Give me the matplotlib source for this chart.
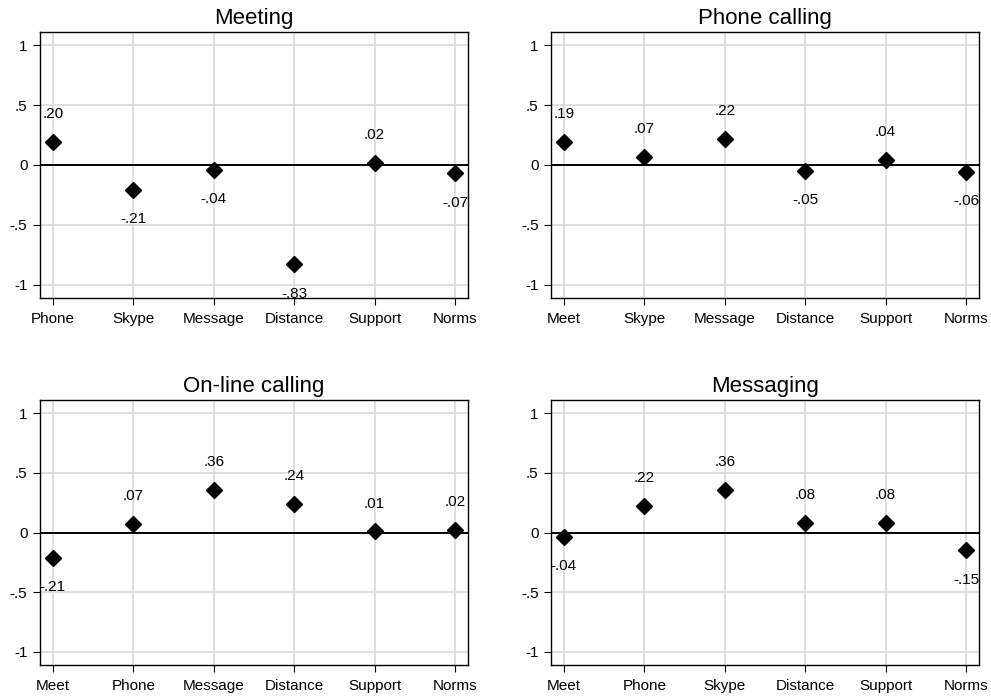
import matplotlib

matplotlib.use("Agg")
import matplotlib.pyplot as plt

plt.rcParams["font.family"] = ["Liberation Sans", "DejaVu Sans"]

titles = ["Meeting", "Phone calling", "On-line calling", "Messaging"]

meeting_cats = ["Phone", "Skype", "Message", "Distance", "Support", "Norms"]
meeting_vals = [0.195, -0.21, -0.04, -0.83, 0.02, -0.07]

phone_cats = ["Meet", "Skype", "Message", "Distance", "Support", "Norms"]
phone_vals = [0.19, 0.07, 0.22, -0.05, 0.04, -0.06]

online_cats = ["Meet", "Phone", "Message", "Distance", "Support", "Norms"]
online_vals = [-0.21, 0.07, 0.36, 0.24, 0.01, 0.02]

messaging_cats = ["Meet", "Phone", "Skype", "Distance", "Support", "Norms"]
messaging_vals = [-0.04, 0.22, 0.36, 0.08, 0.08, -0.15]

yticks = [-1, -0.5, 0, 0.5, 1]
ytick_labels = ["-1", "-.5", "0", ".5", "1"]


def stata_fmt(v):
    s = f"{v:.2f}"
    return s.replace("0.", ".", 1)


def draw_panel(ax, title, cats, vals):
    xs = list(range(len(cats)))
    ax.set_xlim(-0.16, len(cats) - 1 + 0.16)
    ax.set_ylim(-1.11, 1.11)
    for x in xs:
        ax.axvline(x, color="#dcdcdc", lw=1.3, zorder=0)
    for y in yticks:
        ax.axhline(y, color="#dcdcdc", lw=1.3, zorder=0)
    ax.axhline(0, color="black", lw=1.4, zorder=1)
    ax.plot(xs, vals, "D", color="black", ms=8, zorder=3, linestyle="none")
    for x, v in zip(xs, vals):
        off = 20 if v >= 0 else -21
        ax.annotate(stata_fmt(v), (x, v), xytext=(0, off), textcoords="offset points",
                    ha="center", va="center", fontsize=11)
    ax.set_xticks(xs)
    ax.set_xticklabels(cats, fontsize=11, va="baseline")
    ax.set_yticks(yticks)
    ax.set_yticklabels(ytick_labels, fontsize=11)
    ax.tick_params(axis="x", direction="out", length=5, width=0.8, pad=13)
    ax.tick_params(axis="y", direction="out", length=5, width=0.8, pad=4)
    for s in ax.spines.values():
        s.set_linewidth(1.0)
        s.set_color("black")
    ax.set_title(title, fontsize=16, pad=6)


fig = plt.figure(figsize=(9.91, 7.0), dpi=100)
positions = [
    [40 / 991, 1 - 298 / 700, 428 / 991, 266 / 700],
    [551 / 991, 1 - 298 / 700, 428 / 991, 266 / 700],
    [40 / 991, 1 - 665 / 700, 428 / 991, 265 / 700],
    [551 / 991, 1 - 665 / 700, 428 / 991, 265 / 700],
]
panels = [
    (meeting_cats, meeting_vals),
    (phone_cats, phone_vals),
    (online_cats, online_vals),
    (messaging_cats, messaging_vals),
]
for pos, title, (cats, vals) in zip(positions, titles, panels):
    ax = fig.add_axes(pos)
    draw_panel(ax, title, cats, vals)

fig.savefig("out.png", dpi=100)
